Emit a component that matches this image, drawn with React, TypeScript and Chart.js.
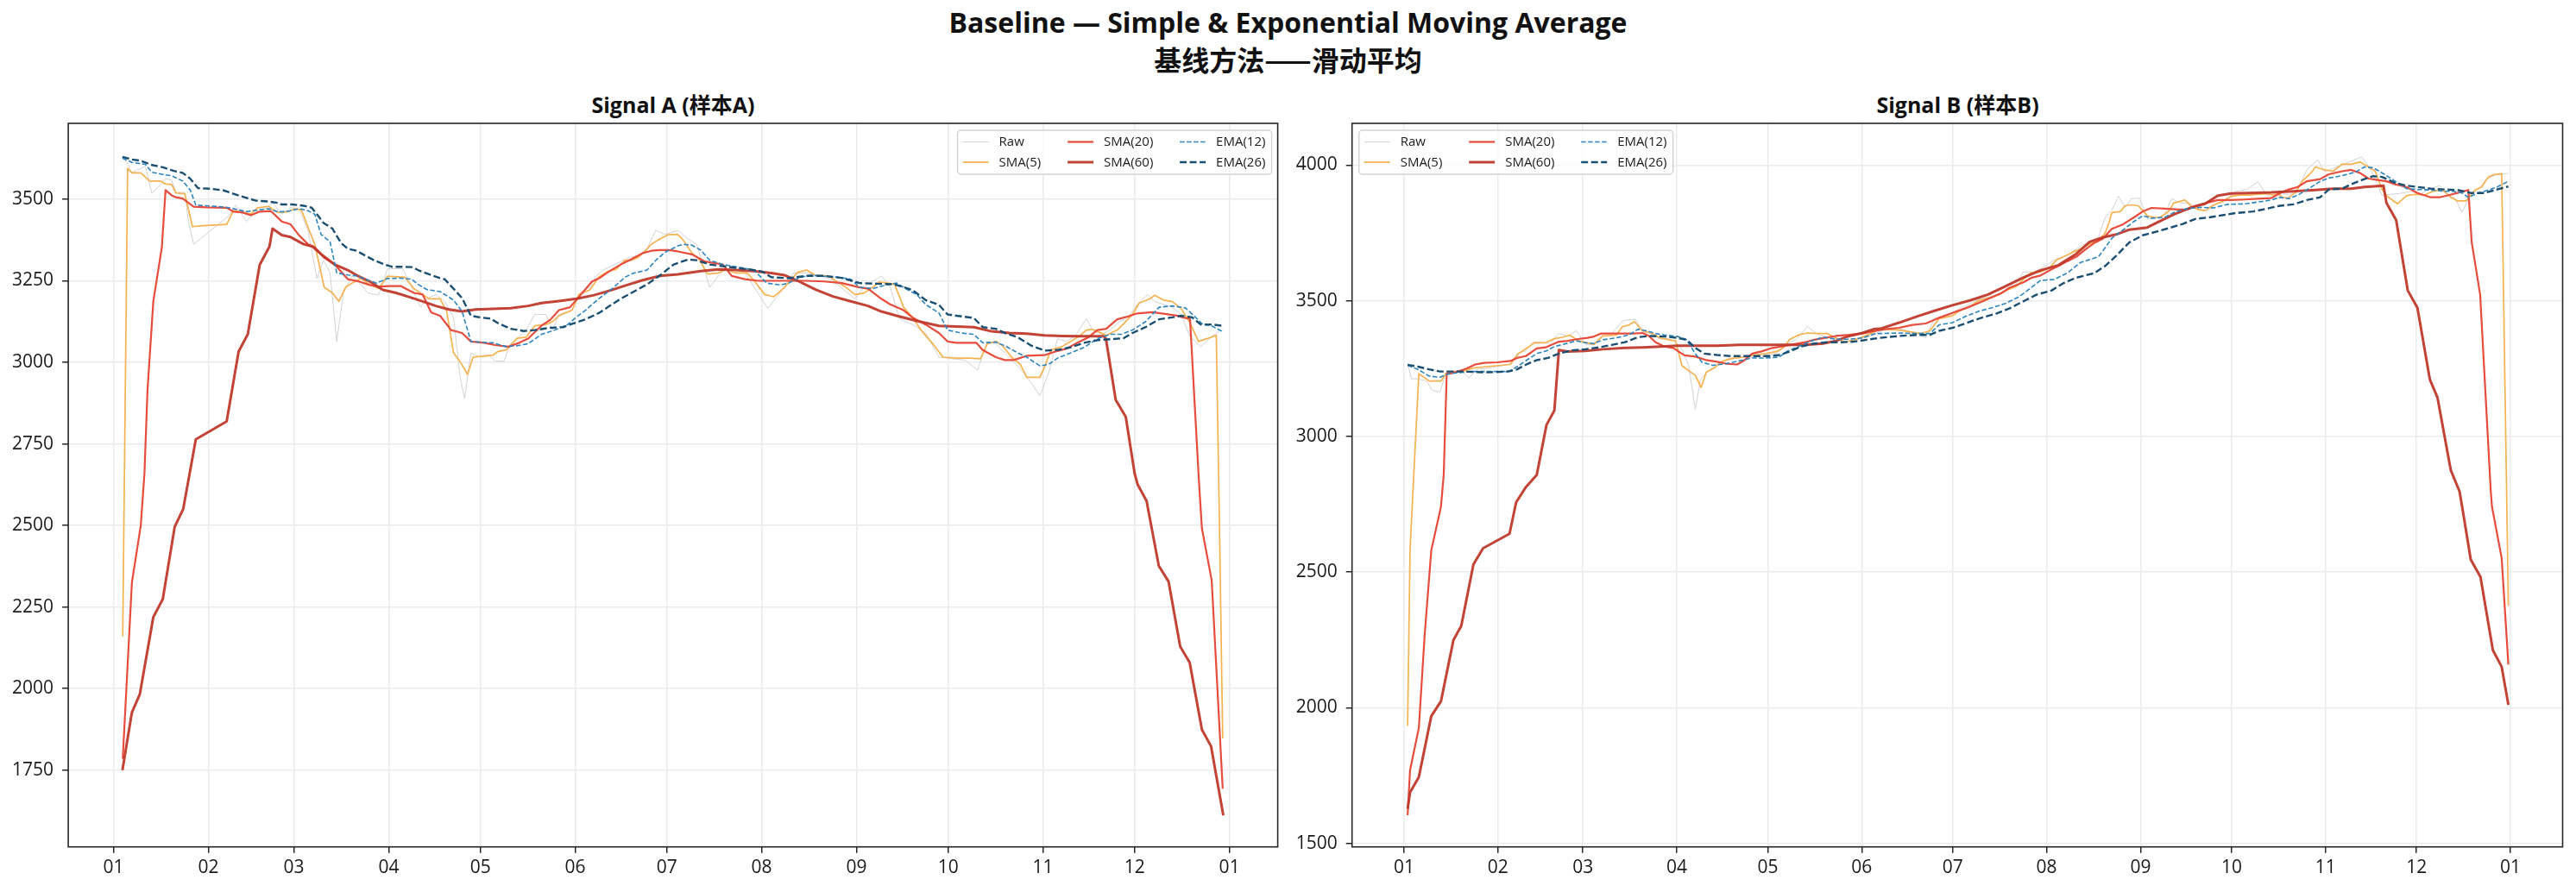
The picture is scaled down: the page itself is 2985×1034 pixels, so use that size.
import React, { useEffect, useRef } from 'react';
import { Chart, registerables } from 'chart.js';

Chart.register(...registerables);

type Pt = [number, number];

// Day-of-year positions of the month ticks and their labels
const MONTH_START_DAYS = [0, 31, 59, 90, 120, 151, 181, 212, 243, 273, 304, 334, 365];
const MONTH_LABELS = ['01', '02', '03', '04', '05', '06', '07', '08', '09', '10', '11', '12', '01'];

const A_Y_TICKS = [1750, 2000, 2250, 2500, 2750, 3000, 3250, 3500];
const B_Y_TICKS = [1500, 2000, 2500, 3000, 3500, 4000];

const SERIES_NAMES = ['Raw', 'SMA(5)', 'SMA(20)', 'SMA(60)', 'EMA(12)', 'EMA(26)'];

// ---- Signal A : [day of year, value] ----
const A_RAW: Pt[] = [[2.9,3629],[4.6,3607],[6.0,3581],[7.5,3589],[8.9,3594],[10.4,3602],[12.5,3519],[14.7,3537],[16.8,3563],[19.0,3559],[20.4,3521],[23.3,3521],[24.5,3432],[26.2,3362],[37.7,3449],[39.9,3482],[43.5,3432],[46.4,3462],[49.2,3468],[52.1,3489],[55.0,3454],[57.9,3475],[60.8,3468],[63.6,3405],[66.5,3257],[68.7,3313],[70.8,3274],[73.0,3064],[75.2,3213],[78.0,3265],[80.9,3239],[83.1,3213],[86.7,3206],[89.6,3287],[94.6,3287],[97.5,3230],[100.4,3169],[102.5,3195],[105.4,3208],[108.3,3187],[111.2,3138],[113.3,2959],[114.8,2889],[116.9,3029],[119.8,3016],[122.7,3024],[124.8,3003],[127.7,3004],[129.9,3057],[132.0,3073],[134.9,3099],[137.8,3147],[141.4,3147],[143.6,3099],[145.7,3147],[150.0,3160],[152.9,3217],[155.8,3230],[157.9,3265],[160.1,3283],[163.0,3296],[165.9,3309],[168.7,3322],[171.6,3327],[174.5,3349],[177.4,3405],[180.3,3392],[184.6,3405],[187.8,3379],[190.7,3362],[195.0,3230],[198.6,3274],[202.2,3292],[206.5,3274],[210.1,3222],[214.0,3165],[218.0,3213],[222.4,3274],[226.7,3274],[231.0,3265],[235.3,3252],[238.9,3222],[242.5,3195],[245.4,3230],[248.3,3248],[251.2,3265],[254.1,3230],[257.0,3134],[261.3,3116],[265.6,3090],[270.0,3016],[274.2,3011],[278.6,3007],[282.6,2976],[285.8,3064],[288.6,3057],[291.5,3029],[294.4,3003],[297.3,2972],[300.2,2937],[303.0,2898],[305.9,2968],[308.8,3073],[311.7,3064],[314.6,3081],[318.2,3134],[320.3,3099],[323.2,3086],[326.1,3099],[329.0,3125],[331.9,3138],[334.8,3178],[338.4,3208],[340.5,3186],[343.4,3178],[346.3,3169],[349.2,3147],[352.0,3081],[355.6,3048],[358.5,3073],[361.3,3094],[362.8,3099]];

const A_SMA5: Pt[] = [[3.0,2160],[3.8,2880],[4.6,3594],[6.0,3581],[8.9,3581],[11.8,3556],[15.4,3556],[16.8,3547],[19.0,3545],[20.4,3519],[23.3,3517],[25.8,3416],[29.1,3419],[37.0,3423],[39.2,3465],[41.3,3462],[44.9,3455],[47.1,3474],[50.7,3478],[53.6,3460],[57.2,3462],[59.3,3471],[61.5,3467],[63.6,3414],[65.8,3362],[68.9,3230],[71.6,3213],[73.7,3187],[75.9,3230],[78.0,3243],[80.9,3257],[83.8,3239],[86.7,3226],[89.6,3264],[95.3,3261],[98.2,3226],[101.1,3208],[103.2,3195],[106.8,3195],[109.0,3156],[111.2,3029],[113.3,3003],[115.8,2963],[117.6,3016],[121.2,3019],[124.1,3022],[125.6,3033],[128.4,3038],[132.0,3074],[134.9,3077],[137.8,3112],[141.4,3116],[143.6,3125],[145.7,3143],[150.0,3160],[152.2,3208],[155.8,3222],[158.7,3261],[161.5,3278],[164.4,3285],[167.3,3313],[169.5,3313],[171.6,3322],[173.8,3340],[175.9,3362],[178.8,3379],[181.7,3392],[184.6,3392],[186.3,3375],[189.2,3335],[191.4,3318],[194.3,3271],[197.9,3274],[200.0,3285],[203.6,3274],[207.2,3274],[209.4,3252],[213.0,3208],[215.9,3201],[219.5,3230],[223.8,3276],[226.7,3283],[229.6,3267],[233.9,3265],[236.8,3246],[239.6,3230],[242.5,3208],[245.4,3212],[248.3,3230],[250.5,3246],[253.3,3243],[255.5,3239],[258.4,3169],[261.3,3138],[264.1,3099],[267.7,3060],[271.3,3016],[275.7,3013],[280.0,3013],[283.6,3011],[285.8,3057],[288.6,3064],[290.8,3051],[293.7,3016],[296.6,2994],[298.7,2954],[303.0,2954],[304.5,2985],[306.6,3038],[310.2,3048],[313.1,3064],[316.0,3081],[318.2,3099],[320.3,3101],[324.7,3083],[328.3,3099],[330.4,3118],[333.3,3147],[335.5,3182],[339.1,3195],[340.5,3206],[343.4,3191],[346.3,3186],[349.2,3165],[352.0,3123],[354.9,3064],[357.8,3073],[360.7,3083],[361.8,2464],[362.8,1847]];

const A_SMA20: Pt[] = [[3.0,1785],[6.0,2325],[8.9,2500],[10.1,2659],[11.1,2915],[13.0,3187],[15.8,3353],[17.0,3528],[19.0,3512],[20.4,3506],[22.6,3502],[26.2,3477],[30.5,3475],[37.0,3474],[39.2,3462],[42.0,3460],[44.9,3451],[47.8,3462],[51.4,3464],[55.0,3432],[57.9,3423],[60.8,3388],[63.6,3362],[65.8,3353],[68.7,3322],[72.3,3300],[76.6,3255],[80.2,3248],[83.8,3237],[86.7,3232],[89.6,3234],[93.9,3234],[98.2,3213],[101.1,3208],[103.9,3153],[106.8,3143],[110.4,3099],[114.0,3090],[116.9,3064],[121.2,3060],[124.8,3053],[129.2,3048],[132.7,3060],[135.6,3073],[139.9,3112],[142.8,3130],[145.7,3160],[149.3,3169],[152.9,3208],[156.5,3248],[158.7,3257],[162.3,3280],[165.9,3300],[168.7,3313],[173.1,3335],[175.9,3342],[178.8,3344],[181.7,3344],[184.6,3340],[189.2,3331],[193.5,3309],[199.3,3300],[202.2,3265],[206.5,3255],[210.8,3250],[218.0,3250],[226.7,3250],[232.4,3248],[238.2,3243],[244.0,3230],[246.8,3226],[251.1,3195],[254.0,3178],[258.4,3160],[261.3,3138],[265.6,3116],[270.0,3090],[272.8,3064],[275.7,3060],[282.2,3060],[284.3,3038],[288.6,3016],[291.5,3007],[294.4,3007],[298.7,3020],[304.5,3022],[307.4,3031],[311.7,3042],[315.3,3060],[318.9,3077],[321.8,3099],[324.7,3103],[328.3,3132],[331.9,3141],[334.8,3150],[339.8,3154],[344.9,3147],[347.8,3143],[350.6,3136],[352.1,3134],[355.0,2640],[356.0,2491],[359.2,2332],[362.8,1693]];

const A_SMA60: Pt[] = [[2.9,1750],[6.0,1927],[8.6,1983],[13.0,2219],[16.1,2274],[20.0,2496],[22.8,2551],[26.9,2764],[37.0,2819],[40.9,3033],[43.9,3086],[47.8,3299],[51.0,3355],[52.0,3410],[55.0,3390],[57.9,3384],[62.2,3362],[65.1,3355],[68.0,3331],[72.3,3300],[76.6,3283],[79.5,3267],[83.8,3248],[88.1,3222],[92.4,3213],[96.8,3200],[101.1,3187],[105.4,3173],[109.7,3162],[114.0,3156],[118.4,3162],[124.1,3164],[129.9,3166],[135.6,3173],[140.0,3182],[145.7,3188],[151.5,3195],[157.2,3206],[163.0,3222],[167.3,3235],[173.1,3252],[178.8,3265],[184.6,3270],[192.1,3280],[197.9,3285],[203.6,3283],[209.4,3280],[215.1,3274],[219.5,3267],[223.8,3250],[229.6,3223],[235.3,3202],[241.1,3187],[246.8,3173],[251.1,3156],[256.9,3141],[262.7,3127],[270.0,3112],[275.7,3110],[281.4,3108],[287.2,3095],[293.0,3090],[298.7,3088],[304.5,3083],[310.2,3081],[316.0,3080],[323.9,3080],[324.6,3073],[327.8,2885],[331.1,2833],[334.0,2659],[335.0,2625],[337.9,2575],[341.9,2376],[345.1,2328],[348.9,2129],[352.0,2080],[356.0,1874],[359.0,1823],[363.0,1611]];

const A_EMA12: Pt[] = [[2.9,3626],[6.0,3613],[10.4,3607],[12.5,3583],[16.1,3576],[19.0,3572],[22.6,3556],[25.1,3528],[26.9,3482],[30.5,3480],[34.8,3477],[37.7,3474],[43.5,3462],[47.8,3468],[50.7,3471],[53.6,3462],[56.4,3462],[60.8,3471],[63.6,3465],[65.8,3454],[67.9,3392],[70.8,3370],[73.0,3274],[76.6,3268],[79.5,3265],[82.4,3255],[86.0,3243],[89.6,3257],[93.9,3258],[97.5,3255],[99.6,3239],[102.5,3223],[106.8,3217],[111.2,3191],[114.0,3156],[116.9,3064],[121.2,3061],[124.1,3060],[128.4,3048],[132.0,3051],[135.6,3057],[140.0,3086],[144.3,3099],[148.6,3116],[151.5,3140],[154.4,3160],[158.7,3195],[163.0,3225],[167.3,3261],[170.2,3274],[174.5,3283],[177.4,3313],[180.3,3337],[184.6,3357],[186.3,3362],[189.2,3359],[192.1,3344],[195.0,3313],[199.3,3300],[203.6,3293],[209.4,3283],[213.7,3243],[218.0,3237],[220.9,3243],[224.5,3261],[228.1,3267],[232.4,3264],[236.8,3261],[241.1,3255],[244.0,3230],[248.3,3226],[252.6,3237],[256.2,3243],[259.8,3222],[262.7,3208],[265.6,3178],[270.0,3151],[272.8,3099],[277.1,3090],[281.4,3086],[284.3,3060],[288.6,3062],[291.5,3051],[295.8,3029],[298.7,3016],[303.0,2989],[305.9,2994],[308.8,3013],[313.1,3029],[317.5,3046],[321.8,3073],[326.1,3086],[329.7,3086],[333.3,3099],[337.6,3125],[342.0,3169],[346.3,3173],[350.6,3167],[353.4,3143],[356.3,3116],[359.2,3112],[362.8,3094]];

const A_EMA26: Pt[] = [[2.9,3630],[6.0,3622],[8.9,3618],[12.5,3605],[16.1,3598],[19.7,3587],[22.6,3581],[25.1,3563],[27.6,3534],[32.0,3532],[36.0,3527],[39.2,3517],[42.8,3506],[46.4,3496],[50.7,3493],[53.6,3489],[55.0,3484],[58.6,3484],[62.2,3480],[64.8,3474],[66.5,3454],[68.7,3427],[71.6,3410],[74.4,3366],[76.6,3348],[79.5,3342],[81.6,3331],[85.2,3313],[88.1,3302],[91.0,3293],[93.9,3293],[97.5,3292],[99.6,3283],[103.2,3270],[106.8,3258],[108.3,3255],[111.2,3226],[114.0,3197],[116.9,3143],[119.8,3138],[123.4,3134],[125.6,3121],[129.9,3103],[134.2,3096],[137.8,3099],[142.8,3106],[147.2,3108],[150.0,3118],[154.4,3132],[158.7,3151],[162.3,3173],[165.9,3195],[170.2,3217],[174.5,3239],[178.8,3267],[183.2,3300],[187.8,3315],[190.7,3313],[195.0,3300],[200.7,3293],[207.9,3285],[212.3,3278],[215.1,3261],[220.9,3258],[226.7,3265],[232.4,3265],[238.2,3259],[244.0,3243],[249.7,3241],[255.5,3239],[261.3,3222],[265.6,3191],[270.0,3176],[272.8,3147],[275.7,3143],[281.4,3136],[284.3,3108],[288.6,3103],[291.5,3090],[295.8,3077],[300.2,3051],[304.5,3036],[308.8,3038],[313.1,3046],[317.5,3060],[321.8,3068],[326.1,3071],[330.4,3074],[333.3,3090],[337.6,3108],[342.0,3132],[346.3,3138],[349.2,3143],[352.8,3138],[355.6,3116],[359.2,3116],[362.8,3112]];

// ---- Signal B : [day of year, value] ----
const B_RAW: Pt[] = [[1.2,3268],[2.5,3212],[4.6,3212],[7.5,3204],[9.3,3169],[11.9,3164],[13.6,3225],[16.3,3236],[19.2,3241],[21.3,3215],[24.2,3247],[27.9,3252],[32.2,3260],[35.1,3268],[37.3,3305],[40.2,3315],[42.4,3347],[45.3,3347],[48.2,3342],[51.1,3379],[54.0,3370],[56.9,3389],[59.8,3339],[62.7,3337],[65.6,3379],[68.5,3379],[72.1,3426],[74.3,3430],[76.5,3430],[78.7,3384],[81.6,3379],[84.5,3358],[87.4,3360],[89.6,3349],[91.7,3321],[93.9,3262],[96.1,3098],[97.8,3210],[100.4,3241],[103.3,3268],[106.2,3284],[109.9,3294],[113.5,3289],[116.4,3294],[120.8,3300],[123.7,3313],[126.6,3342],[129.5,3358],[133.1,3405],[136.0,3379],[138.9,3368],[141.8,3363],[145.4,3347],[149.8,3358],[153.4,3368],[157.5,3389],[163.3,3398],[169.2,3379],[172.1,3363],[175.0,3437],[179.4,3442],[182.3,3466],[186.0,3485],[189.6,3506],[194.0,3516],[198.4,3538],[201.3,3550],[204.2,3606],[207.9,3606],[211.5,3628],[215.2,3654],[218.9,3667],[222.5,3696],[226.2,3720],[229.1,3733],[231.3,3807],[233.5,3834],[235.7,3885],[237.9,3844],[240.0,3876],[242.7,3878],[245.2,3802],[248.1,3804],[251.0,3818],[253.2,3876],[256.2,3860],[259.1,3860],[262.0,3839],[264.9,3829],[267.8,3855],[270.7,3866],[274.4,3903],[278.0,3910],[281.7,3938],[284.6,3889],[287.6,3876],[289.7,3897],[291.9,3889],[294.8,3910],[297.8,3982],[301.4,4019],[303.6,3977],[306.5,3987],[309.5,4003],[312.4,4014],[316.0,4030],[318.2,3995],[320.4,3950],[322.6,3889],[325.5,3892],[328.5,3895],[332.1,3903],[335.0,3892],[338.7,3913],[341.6,3924],[344.6,3889],[346.8,3876],[349.0,3825],[351.1,3876],[354.0,3908],[357.0,3948],[359.9,3963],[362.1,3966],[364.3,3969]];

const B_SMA5: Pt[] = [[1.2,1934],[2.0,2583],[4.9,3231],[8.3,3204],[12.2,3204],[14.1,3236],[16.3,3239],[19.2,3239],[22.8,3252],[27.1,3257],[35.1,3265],[37.7,3305],[40.9,3328],[43.1,3345],[46.7,3345],[49.6,3360],[52.5,3366],[54.7,3373],[57.6,3352],[60.5,3345],[62.7,3339],[65.6,3370],[70.0,3373],[72.1,3405],[74.3,3411],[76.0,3423],[78.7,3389],[81.6,3381],[84.5,3363],[87.4,3356],[89.6,3352],[91.7,3260],[96.1,3225],[98.0,3180],[99.7,3236],[102.6,3254],[104.8,3275],[107.7,3286],[112.0,3292],[115.7,3300],[119.3,3305],[122.9,3313],[125.1,3326],[127.3,3358],[130.2,3374],[133.1,3381],[136.7,3379],[139.6,3379],[142.5,3363],[145.4,3347],[149.8,3360],[154.1,3379],[157.0,3395],[163.3,3392],[167.7,3384],[170.6,3379],[173.5,3389],[176.5,3434],[180.9,3444],[183.0,3461],[186.7,3479],[189.6,3501],[193.3,3511],[196.2,3522],[199.1,3540],[202.0,3553],[204.2,3578],[206.8,3603],[209.9,3606],[212.9,3620],[215.1,3649],[218.1,3665],[220.3,3677],[223.2,3691],[226.2,3709],[229.1,3723],[231.3,3749],[232.7,3792],[233.5,3825],[236.4,3829],[237.8,3850],[240.0,3853],[242.2,3850],[243.7,3832],[245.2,3813],[247.4,3807],[249.5,3807],[252.2,3829],[253.9,3860],[257.6,3871],[259.8,3847],[262.0,3836],[264.2,3832],[267.1,3853],[270.0,3866],[272.9,3885],[275.9,3889],[278.8,3889],[281.7,3892],[284.6,3895],[286.8,3889],[288.3,3895],[289.7,3881],[291.6,3878],[294.1,3899],[296.3,3940],[299.2,3971],[300.7,3993],[303.6,3982],[306.5,3977],[309.5,4003],[312.4,4003],[315.3,4011],[317.5,3998],[320.4,3977],[322.6,3910],[324.1,3887],[327.7,3857],[330.7,3887],[333.6,3892],[336.5,3889],[339.4,3903],[342.4,3910],[345.3,3881],[347.5,3868],[350.4,3868],[353.3,3908],[355.5,3919],[357.7,3956],[359.9,3966],[362.1,3968],[363.2,3174],[364.3,2376]];

const B_SMA20: Pt[] = [[1.2,1604],[2.0,1770],[4.9,1926],[6.8,2265],[9.0,2580],[12.2,2741],[13.1,2858],[14.1,3231],[15.1,3231],[17.7,3239],[20.6,3250],[23.5,3265],[26.4,3271],[30.8,3273],[35.1,3278],[37.3,3289],[40.2,3296],[43.8,3324],[46.7,3328],[51.1,3349],[54.0,3352],[56.9,3358],[60.5,3363],[62.7,3368],[64.9,3379],[68.5,3379],[72.9,3379],[75.8,3379],[78.7,3381],[80.8,3370],[83.0,3347],[85.9,3331],[88.8,3326],[92.5,3299],[96.1,3294],[99.7,3281],[103.3,3275],[106.2,3268],[109.9,3265],[112.0,3278],[114.9,3305],[117.9,3313],[121.5,3326],[124.4,3331],[127.3,3337],[132.4,3347],[135.3,3356],[138.9,3363],[142.5,3370],[146.9,3374],[151.2,3379],[155.6,3389],[158.5,3395],[163.3,3400],[167.7,3411],[172.1,3416],[176.5,3437],[180.9,3455],[185.2,3472],[188.2,3485],[192.5,3506],[196.9,3527],[199.8,3548],[204.2,3567],[207.1,3585],[210.0,3593],[213.0,3612],[215.9,3628],[218.9,3646],[221.8,3662],[224.7,3688],[227.6,3712],[230.5,3728],[233.5,3765],[237.1,3781],[240.8,3807],[243.7,3829],[246.6,3842],[251.0,3839],[255.4,3836],[258.3,3836],[261.2,3850],[265.6,3863],[268.5,3871],[272.9,3871],[277.3,3873],[281.7,3876],[286.1,3878],[289.0,3897],[291.9,3910],[294.8,3919],[297.8,3940],[302.2,3948],[305.1,3966],[309.5,3977],[312.4,3982],[315.3,3971],[318.2,3950],[321.2,3945],[324.1,3940],[327.0,3929],[330.7,3919],[334.3,3897],[338.7,3881],[341.6,3881],[344.6,3889],[347.5,3897],[351.1,3908],[352.2,3717],[355.0,3522],[358.5,2797],[358.9,2741],[362.1,2551],[364.3,2159]];

const B_SMA60: Pt[] = [[1.2,1628],[2.0,1688],[4.9,1745],[9.0,1969],[12.2,2024],[16.3,2249],[18.9,2302],[22.9,2528],[26.1,2588],[34.8,2641],[37.0,2757],[40.2,2813],[43.8,2858],[47.0,3042],[49.6,3095],[51.1,3318],[54.0,3313],[59.8,3315],[65.6,3321],[72.9,3326],[78.7,3328],[84.5,3331],[90.3,3334],[97.5,3334],[103.3,3334],[110.6,3337],[116.4,3337],[122.2,3337],[126.6,3337],[132.4,3337],[138.2,3342],[142.5,3352],[146.9,3370],[151.2,3381],[154.9,3395],[157.5,3398],[163.3,3419],[169.2,3442],[175.0,3463],[180.9,3483],[186.7,3501],[192.5,3522],[198.4,3553],[204.2,3585],[210.0,3612],[215.9,3631],[221.8,3673],[226.2,3717],[230.5,3733],[234.9,3744],[239.3,3762],[245.2,3770],[249.5,3794],[253.9,3818],[259.8,3844],[264.2,3857],[268.5,3887],[272.9,3895],[278.8,3897],[286.1,3899],[293.4,3903],[300.7,3908],[306.5,3913],[312.4,3913],[316.8,3919],[323.1,3924],[324.1,3860],[327.3,3797],[331.1,3538],[334.3,3474],[338.4,3210],[340.9,3144],[345.3,2876],[348.2,2797],[349.2,2731],[351.9,2546],[355.1,2482],[359.2,2212],[362.1,2151],[364.3,2011]];

const B_EMA12: Pt[] = [[1.2,3262],[4.6,3247],[8.3,3222],[11.9,3218],[14.8,3231],[19.2,3236],[23.5,3239],[27.9,3239],[34.4,3239],[37.3,3257],[40.9,3284],[43.8,3305],[47.0,3315],[49.6,3331],[52.5,3339],[56.9,3352],[59.8,3345],[62.7,3342],[65.6,3356],[70.0,3363],[74.3,3374],[77.2,3395],[80.1,3389],[83.0,3379],[85.9,3374],[90.3,3368],[93.2,3356],[96.1,3305],[98.3,3273],[101.9,3262],[106.2,3268],[110.6,3278],[114.9,3289],[119.3,3289],[123.7,3292],[126.6,3315],[130.2,3331],[133.8,3349],[138.2,3366],[142.5,3358],[146.9,3358],[151.2,3363],[155.6,3379],[157.5,3379],[163.3,3381],[169.2,3379],[173.5,3379],[176.5,3411],[180.9,3419],[185.2,3442],[189.6,3461],[194.0,3474],[198.4,3490],[202.8,3514],[205.7,3538],[210.0,3575],[214.5,3578],[218.9,3603],[223.2,3641],[229.1,3662],[231.3,3696],[233.5,3730],[236.4,3754],[240.8,3792],[243.7,3813],[246.6,3804],[251.0,3807],[253.9,3825],[258.3,3839],[262.7,3844],[267.1,3842],[271.5,3855],[277.3,3857],[283.2,3866],[286.1,3871],[289.0,3881],[291.9,3876],[294.8,3889],[297.8,3908],[302.2,3940],[305.1,3952],[309.5,3961],[313.9,3974],[316.8,3993],[319.7,3990],[323.4,3966],[327.0,3940],[330.7,3913],[334.3,3910],[338.7,3908],[343.1,3903],[346.0,3903],[349.0,3897],[351.1,3881],[354.0,3895],[357.7,3908],[360.6,3919],[364.3,3940]];

const B_EMA26: Pt[] = [[1.2,3264],[4.6,3257],[8.3,3247],[11.9,3239],[19.2,3239],[27.9,3236],[34.4,3239],[37.3,3247],[40.9,3268],[43.8,3281],[47.5,3289],[51.1,3305],[55.4,3317],[59.8,3321],[64.2,3328],[68.5,3337],[72.9,3347],[77.2,3366],[81.6,3370],[85.9,3368],[90.3,3363],[93.2,3356],[96.1,3326],[99.0,3305],[103.3,3300],[107.7,3296],[112.0,3296],[116.4,3296],[120.8,3296],[123.7,3300],[127.3,3313],[130.9,3331],[135.3,3342],[139.6,3347],[144.0,3347],[148.3,3349],[152.7,3356],[157.0,3363],[163.3,3370],[169.2,3374],[173.5,3374],[176.5,3389],[180.9,3400],[185.2,3416],[189.6,3434],[195.5,3453],[199.8,3472],[204.2,3497],[208.6,3522],[213.7,3538],[217.4,3564],[221.8,3585],[227.6,3601],[231.3,3628],[234.9,3665],[239.3,3715],[243.7,3741],[248.1,3754],[252.5,3768],[256.9,3783],[261.2,3802],[265.6,3807],[270.0,3815],[274.4,3823],[280.2,3829],[284.6,3839],[289.0,3850],[293.4,3855],[297.8,3871],[302.2,3881],[305.1,3910],[309.5,3913],[312.4,3929],[316.8,3948],[319.7,3959],[322.6,3956],[327.0,3934],[330.7,3924],[334.3,3919],[338.7,3913],[343.1,3910],[347.5,3908],[351.9,3897],[356.3,3897],[360.6,3910],[364.3,3921]];

// Line look for each series, in legend order
const LINE_STYLES = [
  { color: '#d2d2d2', width: 1.0, dash: [] as number[] },
  { color: '#f6b24f', width: 1.7, dash: [] as number[] },
  { color: '#e74c3c', width: 2.2, dash: [] as number[] },
  { color: 'rgba(192,57,43,0.95)', width: 3.0, dash: [] as number[] },
  { color: '#2e86c1', width: 1.6, dash: [5.5, 2.5] },
  { color: '#1b4f72', width: 2.4, dash: [8, 3.5] },
];

const FONT = "'Open Sans', 'Noto Sans CJK SC', sans-serif";
const FIG_H = 1034;

// Closed box around the plotting area (all four spines)
const framePlugin = {
  id: 'frame',
  afterDatasetsDraw(chart: any) {
    const { ctx, chartArea: a } = chart;
    ctx.save();
    ctx.strokeStyle = '#262626';
    ctx.lineWidth = 1.6;
    ctx.strokeRect(a.left, a.top, a.right - a.left, a.bottom - a.top);
    ctx.restore();
  },
};

// Three-column legend, filled column by column
function makeLegendPlugin(side: 'left' | 'right') {
  return {
    id: 'gridLegend',
    afterDraw(chart: any) {
      const { ctx, chartArea: a } = chart;
      const W = 364;
      const H = 51;
      const x0 = side === 'right' ? a.right - 7 - W : a.left + 8;
      const y0 = a.top + 8;
      ctx.save();
      ctx.beginPath();
      const r = 4;
      ctx.moveTo(x0 + r, y0);
      ctx.arcTo(x0 + W, y0, x0 + W, y0 + H, r);
      ctx.arcTo(x0 + W, y0 + H, x0, y0 + H, r);
      ctx.arcTo(x0, y0 + H, x0, y0, r);
      ctx.arcTo(x0, y0, x0 + W, y0, r);
      ctx.closePath();
      ctx.fillStyle = 'rgba(255,255,255,0.8)';
      ctx.fill();
      ctx.strokeStyle = '#d4d4d4';
      ctx.lineWidth = 1.5;
      ctx.stroke();

      const colX = [6, 127.5, 257.5];
      const rowY = [13.5, 37];
      ctx.font = `15px ${FONT}`;
      ctx.textBaseline = 'middle';
      ctx.textAlign = 'left';
      SERIES_NAMES.forEach((name, i) => {
        const st = LINE_STYLES[i];
        const cx = x0 + colX[Math.floor(i / 2)];
        const cy = y0 + rowY[i % 2];
        ctx.beginPath();
        ctx.setLineDash(st.dash);
        ctx.strokeStyle = st.color;
        ctx.lineWidth = st.width;
        ctx.moveTo(cx, cy);
        ctx.lineTo(cx + 30, cy);
        ctx.stroke();
        ctx.setLineDash([]);
        ctx.fillStyle = '#1a1a1a';
        ctx.fillText(name, cx + 42, cy + 0.5);
      });
      ctx.restore();
    },
  };
}

type PanelProps = {
  left: number;
  width: number;
  axisWidth: number;
  padRight: number;
  xRange: [number, number];
  yRange: [number, number];
  yTicks: number[];
  series: Pt[][];
  legendSide: 'left' | 'right';
};

function Panel(p: PanelProps) {
  const ref = useRef<HTMLCanvasElement>(null);

  useEffect(() => {
    const canvas = ref.current;
    if (!canvas) return;
    const datasets = p.series.map((pts, i) => ({
      label: SERIES_NAMES[i],
      data: pts.map(([x, y]) => ({ x, y })),
      borderColor: LINE_STYLES[i].color,
      borderWidth: LINE_STYLES[i].width,
      borderDash: LINE_STYLES[i].dash,
      borderJoinStyle: 'round' as const,
      pointRadius: 0,
      tension: 0,
      fill: false,
      order: p.series.length - i,
    }));

    const tickFont = { family: FONT, size: 21 };
    const chart = new Chart(canvas, {
      type: 'line',
      data: { datasets },
      options: {
        responsive: false,
        animation: false,
        events: [],
        layout: { padding: { left: 0, right: p.padRight, top: 143, bottom: 0 } },
        plugins: {
          legend: { display: false },
          tooltip: { enabled: false },
          title: { display: false },
        },
        scales: {
          x: {
            type: 'linear',
            min: p.xRange[0],
            max: p.xRange[1],
            afterBuildTicks: (axis: any) => {
              axis.ticks = MONTH_START_DAYS.map((v) => ({ value: v }));
            },
            afterFit: (axis: any) => {
              axis.height = 52.3;
            },
            ticks: {
              autoSkip: false,
              maxRotation: 0,
              padding: 5,
              color: '#1a1a1a',
              font: tickFont,
              callback: (v: any) => {
                const idx = MONTH_START_DAYS.indexOf(Number(v));
                return idx >= 0 ? MONTH_LABELS[idx] : '';
              },
            },
            grid: {
              color: '#ebebeb',
              lineWidth: 1.5,
              drawTicks: true,
              tickLength: 7,
              tickColor: '#262626',
              tickWidth: 1.5,
            },
            border: { display: false },
          },
          y: {
            type: 'linear',
            min: p.yRange[0],
            max: p.yRange[1],
            afterBuildTicks: (axis: any) => {
              axis.ticks = p.yTicks.map((v) => ({ value: v }));
            },
            afterFit: (axis: any) => {
              axis.width = p.axisWidth;
            },
            ticks: {
              padding: 10,
              color: '#1a1a1a',
              font: tickFont,
              callback: (v: any) => String(v),
            },
            grid: {
              color: '#ebebeb',
              lineWidth: 1.5,
              drawTicks: true,
              tickLength: 7,
              tickColor: '#262626',
              tickWidth: 1.5,
            },
            border: { display: false },
          },
        },
      },
      plugins: [framePlugin, makeLegendPlugin(p.legendSide)],
    } as any);
    return () => chart.destroy();
  }, []);

  return (
    <canvas
      ref={ref}
      width={p.width}
      height={FIG_H}
      style={{ position: 'absolute', left: p.left, top: 0, width: p.width, height: FIG_H }}
    />
  );
}

const titleStyle: React.CSSProperties = {
  position: 'absolute',
  textAlign: 'center',
  fontWeight: 700,
  color: '#111',
  whiteSpace: 'nowrap',
};

export default function App() {
  return (
    <div
      style={{
        position: 'absolute',
        left: 0,
        top: 0,
        width: 2985,
        height: FIG_H,
        background: '#fff',
        overflow: 'hidden',
      }}
    >
      <div style={{ ...titleStyle, left: 0, width: 2985, top: 10, fontSize: 32, lineHeight: '32px', fontFamily: FONT }}>
        Baseline — Simple &amp; Exponential Moving Average
      </div>
      <div
        style={{
          ...titleStyle,
          left: 0,
          width: 2985,
          top: 52,
          fontSize: 32,
          lineHeight: '32px',
          fontFamily: "'Noto Sans CJK SC', sans-serif",
        }}
      >
        基线方法——滑动平均
      </div>
      <div style={{ ...titleStyle, left: 79, width: 1402, top: 106, fontSize: 25, lineHeight: '30px', fontFamily: FONT }}>
        Signal A (样本A)
      </div>
      <div style={{ ...titleStyle, left: 1567, width: 1403, top: 106, fontSize: 25, lineHeight: '30px', fontFamily: FONT }}>
        Signal B (样本B)
      </div>

      <Panel
        left={0}
        width={1490}
        axisWidth={79.1}
        padRight={9.4}
        xRange={[-14.82, 380.8]}
        yRange={[1514.7, 3732.6]}
        yTicks={A_Y_TICKS}
        series={[A_RAW, A_SMA5, A_SMA20, A_SMA60, A_EMA12, A_EMA26]}
        legendSide="right"
      />
      <Panel
        left={1490}
        width={1495}
        axisWidth={76.7}
        padRight={15.5}
        xRange={[-17.14, 382.2]}
        yRange={[1487.3, 4153.5]}
        yTicks={B_Y_TICKS}
        series={[B_RAW, B_SMA5, B_SMA20, B_SMA60, B_EMA12, B_EMA26]}
        legendSide="left"
      />
    </div>
  );
}
